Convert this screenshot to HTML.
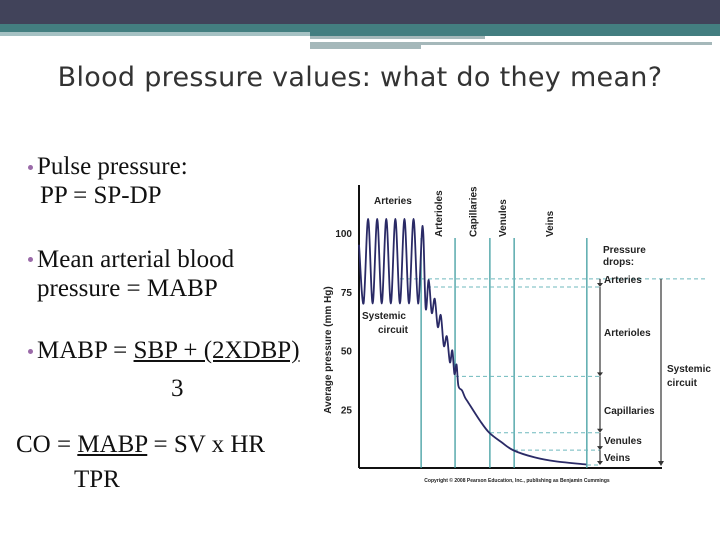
<!DOCTYPE html>
<html><head><meta charset="utf-8"><style>
body{margin:0;width:720px;height:540px;overflow:hidden;background:#fff;position:relative;font-family:"Liberation Serif",serif}
.t{position:absolute;font-size:25px;color:#111;white-space:nowrap;line-height:1}
.b{position:absolute;width:5px;height:5px;border-radius:50%;background:#9a6aa8}
svg text{font-family:"Liberation Sans",sans-serif;font-weight:bold;fill:#222}
</style></head><body>
<div style="position:absolute;left:0;top:0;width:720px;height:24px;background:#41435a"></div>
<div style="position:absolute;left:0;top:24px;width:720px;height:8px;background:#437e80"></div>
<div style="position:absolute;left:0;top:32px;width:310px;height:4px;background:#a5c1c3"></div>
<div style="position:absolute;left:310px;top:32px;width:410px;height:4px;background:#437e80"></div>
<div style="position:absolute;left:310px;top:36px;width:175px;height:3px;background:#a5b8ba"></div>
<div style="position:absolute;left:310px;top:42px;width:111px;height:7px;background:#a5b8ba"></div>
<div style="position:absolute;left:420px;top:42px;width:292px;height:3px;background:#a5b8ba"></div>
<div style="position:absolute;left:0;width:720px;top:62px;text-align:center;font-family:'DejaVu Sans',sans-serif;font-size:27px;color:#333;letter-spacing:0.3px">Blood pressure values: what do they mean?</div>

<div class="b" style="left:28px;top:165px"></div>
<div class="t" style="left:37px;top:154px">Pulse pressure:</div>
<div class="t" style="left:40px;top:183px">PP = SP-DP</div>
<div class="b" style="left:28px;top:257px"></div>
<div class="t" style="left:37px;top:247px">Mean arterial blood</div>
<div class="t" style="left:37px;top:276px">pressure = MABP</div>
<div class="b" style="left:28px;top:349px"></div>
<div class="t" style="left:37px;top:338px">MABP = <u>SBP + (2XDBP)</u></div>
<div class="t" style="left:171px;top:376px">3</div>
<div class="t" style="left:16px;top:432px">CO = <u>MABP</u> = SV x HR</div>
<div class="t" style="left:74px;top:467px">TPR</div>

<svg id="chart" width="720" height="540" style="position:absolute;left:0;top:0">
<g id="g"></g>
</svg>
<script>
const yTicks=[25,50,75,100];
const regionBounds=[20.5,31.7,43.2,51.2,75.2];
const regionNames=["Arterioles","Capillaries","Venules","Veins"];
const distances=[0,1.5,3,4.5,6,7.5,9,10.5,12,13.5,15,16.5,18,19.5,21,22,23,24,25,26,27,28,29,30,30.8,31.5,32.2,32.8,34,35,36,40,43,47,51,58,65,75];
const pressures=[95,70,106,70,106,70,106,70,106,70,106,70,106,70,103,68,80,66,72,60,65,52,56,45,50,40,44,35,33,30,28,20,15,11,7.5,4.5,2.8,1.5];
const dropLevels=[80.5,77,39,15,7.6,1.3];
const dropNames=["Arteries","Arterioles","Capillaries","Venules","Veins"];
const X0=359,X1=662,Y0=468,YTOP=233;
const sx=d=>X0+d*(X1-X0)/100;
const sy=p=>Y0-p*(Y0-YTOP)/100;
const g=document.getElementById('g');
const NS='http://www.w3.org/2000/svg';
function mk(tag,at,txt){const e=document.createElementNS(NS,tag);for(const k in at)e.setAttribute(k,at[k]);if(txt!==undefined)e.textContent=txt;g.appendChild(e);return e;}
let e=mk('line',{x1:X0,y1:185,x2:X0,y2:Y0,stroke:'#111','stroke-width':2});


e=mk('line',{x1:X0,y1:Y0,x2:X1,y2:Y0,stroke:'#111','stroke-width':2});


yTicks.forEach(v=>{const t=mk('text',{x:352,y:sy(v)+4,'text-anchor':'end','font-size':10},String(v));

});
e=mk('text',{transform:'translate(331,350) rotate(-90)','text-anchor':'middle','font-size':10},'Average pressure (mm Hg)');


regionBounds.forEach(b=>{const l=mk('line',{x1:sx(b),y1:238,x2:sx(b),y2:Y0,stroke:'#3f9da0','stroke-width':1.3});

});
regionNames.forEach((n,i)=>{const cx=(i<3)?(sx(regionBounds[i])+sx(regionBounds[i+1]))/2:549;
const t=mk('text',{transform:`translate(${cx+4},237) rotate(-90)`,'font-size':10},n);

});
e=mk('text',{x:374,y:204,'font-size':10},'Arteries');


e=mk('text',{x:362,y:319,'font-size':10},'Systemic');


e=mk('text',{x:378,y:333,'font-size':10},'circuit');


const dashStart=[400,427,455,490,514,587];
dropLevels.forEach((v,i)=>{const l=mk('line',{x1:dashStart[i],y1:sy(v),x2:i==0?705:600,y2:sy(v),stroke:'#6fb9bd','stroke-width':1,'stroke-dasharray':'4,3'});

});
for(let i=0;i<dropNames.length;i++){const ya=sy(dropLevels[i]),yb=sy(dropLevels[i+1]);
const l=mk('line',{x1:600,y1:ya,x2:600,y2:yb-3,stroke:'#333','stroke-width':1.2});


const h=mk('polygon',{points:`597,${yb-4} 603,${yb-4} 600,${yb}`,fill:'#333'});


const ly=[283,336,414,444,461][i];
const t=mk('text',{x:604,y:ly,'font-size':10,'font-weight':'normal'},dropNames[i]);

}
e=mk('line',{x1:661,y1:sy(dropLevels[0]),x2:661,y2:462,stroke:'#333','stroke-width':1.2});


e=mk('polygon',{points:'658,461 664,461 661,466',fill:'#333'});


[['Pressure',253],['drops:',265]].forEach(([s,y])=>{const t=mk('text',{x:603,y:y,'font-size':10},s);

});
[['Systemic',372],['circuit',386]].forEach(([s,y])=>{const t=mk('text',{x:667,y:y,'font-size':10,'font-weight':'normal'},s);

});
const P=distances.map((d,i)=>[sx(d),sy(pressures[i])]);
let dp=`M${P[0][0]},${P[0][1]}`;
for(let i=0;i<P.length-1;i++){const p0=P[Math.max(0,i-1)],p1=P[i],p2=P[i+1],p3=P[Math.min(P.length-1,i+2)];
const c1=[p1[0]+(p2[0]-p0[0])/6,p1[1]+(p2[1]-p0[1])/6],c2=[p2[0]-(p3[0]-p1[0])/6,p2[1]-(p3[1]-p1[1])/6];
dp+=` C${c1[0]},${c1[1]} ${c2[0]},${c2[1]} ${p2[0]},${p2[1]}`;}
e=mk('path',{d:dp,fill:'none',stroke:'#2a2a66','stroke-width':1.8});


e=mk('text',{x:517,y:482,'text-anchor':'middle','font-size':5,'font-weight':'normal',fill:'#666'},'Copyright © 2008 Pearson Education, Inc., publishing as Benjamin Cummings');


</script>
</body></html>
